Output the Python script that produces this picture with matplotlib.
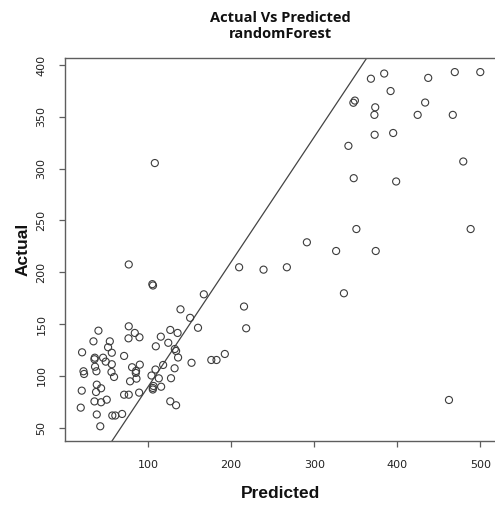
import matplotlib
matplotlib.use("Agg")
import matplotlib.pyplot as plt

# Random forest test-set predictions vs observed values
predicted = [
    368.3, 384.3, 437.3, 469.3, 500.0, 392.0, 349.0, 347.2, 373.5, 372.5,
    433.6, 424.6, 466.9, 372.8, 395.1, 341.2, 479.5, 347.6, 398.7, 350.8,
    488.4, 291.2, 326.4, 374.1, 209.6, 239.0, 267.1, 167.1, 335.8, 215.5,
    218.1, 462.3, 108.1, 105.1, 105.9, 76.7, 139.0, 150.6, 160.1, 126.7,
    135.5, 115.3, 124.3, 109.3, 132.2, 133.7, 136.1, 192.4, 176.1, 182.4,
    152.3, 118.1, 108.9, 131.9, 112.9, 104.1, 127.6, 106.5, 105.7, 105.7,
    115.7, 126.7, 133.7, 76.7, 40.2, 84.0, 76.4, 89.6, 34.2, 53.9,
    51.8, 56.3, 20.5, 35.8, 35.4, 45.8, 71.1, 49.0, 56.3, 90.0,
    36.1, 80.7, 22.2, 22.9, 37.8, 55.9, 85.5, 85.2, 59.0, 78.3,
    86.0, 38.2, 43.4, 20.1, 37.3, 89.2, 71.1, 76.7, 35.4, 43.4,
    50.2, 18.9, 38.2, 56.9, 60.5, 68.7, 42.4,
]
actual = [
    386.8, 391.8, 387.6, 393.2, 393.2, 374.9, 365.7, 363.6, 359.2, 351.9,
    363.8, 351.9, 351.9, 332.7, 334.4, 322.0, 306.9, 290.8, 287.6, 241.7,
    241.7, 228.9, 220.5, 220.5, 204.8, 202.5, 204.8, 178.7, 179.7, 166.9,
    145.9, 76.7, 305.4, 188.5, 187.2, 207.5, 164.2, 156.0, 146.4, 144.3,
    141.4, 137.8, 131.9, 128.5, 125.9, 124.0, 117.7, 121.1, 115.3, 115.3,
    112.6, 110.5, 106.1, 107.3, 97.6, 100.3, 97.7, 90.2, 88.3, 86.8,
    89.5, 75.4, 71.6, 147.8, 143.6, 141.4, 136.2, 137.2, 133.3, 133.3,
    127.6, 122.3, 122.7, 117.5, 116.0, 117.5, 119.2, 113.7, 111.2, 110.8,
    108.8, 108.3, 104.4, 101.8, 104.4, 103.7, 104.7, 102.8, 98.9, 94.7,
    97.3, 91.5, 88.0, 85.7, 84.4, 83.8, 81.8, 81.8, 75.3, 74.5,
    77.0, 69.3, 62.7, 61.7, 61.7, 63.2, 51.3,
]

# Reference line drawn over the scatter
line_intercept = -31.0
line_slope = 1.205

x_ticks = [100, 200, 300, 400, 500]
y_ticks = [50, 100, 150, 200, 250, 300, 350, 400]

W, H = 495, 508
fig = plt.figure(figsize=(W / 100, H / 100), dpi=100)
ax = fig.add_axes([65.3 / W, (H - 441) / H, 433.5 / W, 383 / H])

ax.scatter(predicted, actual, s=26, facecolors="none",
           edgecolors="#3c3c3c", linewidths=0.8, zorder=3)
ax.axline((0, line_intercept), slope=line_slope, color="#444444",
          linewidth=0.9, zorder=2)

ax.set_xlim(0.3, 522.3)
ax.set_ylim(37.1, 406.8)
ax.set_xticks(x_ticks)
ax.set_yticks(y_ticks)

for sp in ax.spines.values():
    sp.set_color("#5e5e5e")
    sp.set_linewidth(1.0)
# the plot box runs past the right edge of the canvas
ax.spines["right"].set_visible(False)

ax.tick_params(direction="out", length=4.5, width=0.9, color="#5e5e5e",
               labelsize=8, labelcolor="#222222", pad=9)
for lab in ax.get_yticklabels():
    lab.set_rotation(90)
    lab.set_va("center")
    lab.set_ha("right")

label_font = dict(family="Liberation Sans", weight="bold", size=12.5,
                  color="#111111")
ax.set_xlabel("Predicted", **label_font)
ax.set_ylabel("Actual", **label_font)
ax.xaxis.set_label_coords(0.4965, -0.136)
ax.xaxis.label.set_va("center")
ax.yaxis.set_label_coords(-0.0976, 0.5)
ax.yaxis.label.set_va("center")
ax.yaxis.label.set_ha("center")

ax.text(0.4965, 1.0836, "Actual Vs Predicted\nrandomForest",
        transform=ax.transAxes, ha="center", va="center",
        family="Open Sans", weight="bold", size=10.5, linespacing=1.25,
        color="#111111")

fig.savefig("out.png", dpi=100)
